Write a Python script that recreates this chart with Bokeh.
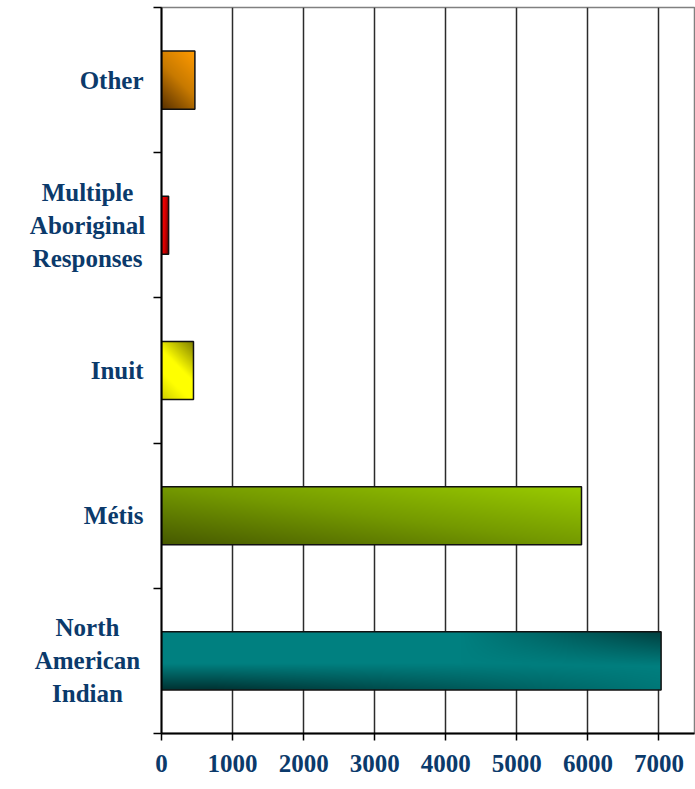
import numpy as np
from bokeh.plotting import figure
from bokeh.layouts import row
from bokeh.models import FixedTicker, Range1d, ColumnDataSource
from bokeh.core.properties import value
from bokeh.embed import file_html
from bokeh.resources import INLINE

# Aboriginal identity groups, listed bottom to top
categories = ["North\nAmerican\nIndian", "Métis", "Inuit",
              "Multiple\nAboriginal\nResponses", "Other"]
values = [7030, 5910, 450, 100, 470]
x_ticks = [0, 1000, 2000, 3000, 4000, 5000, 6000, 7000]

X_MAX = 7500
TOTAL_W, TOTAL_H = 695, 789
LABEL_W = 149                 # width of the category label panel
AXIS_PAD = 12                 # room for the outward y ticks
BORDER_TOP, BORDER_BOTTOM = 7, 56
FRAME_W = TOTAL_W - LABEL_W - AXIS_PAD - 1
FRAME_H = TOTAL_H - BORDER_TOP - BORDER_BOTTOM
LABEL_CENTER = 87             # multi-line labels: lines centred here
LABEL_RIGHT = 143             # single-line labels: right edge here
BAR_H = 0.4
TEXT_COLOR = "#0B3A6B"
FONT = "Liberation Serif"


def hex_rgb(h):
    h = h.lstrip("#")
    return np.array([int(h[i:i + 2], 16) for i in (0, 2, 4)], dtype=float)


def ramp(t, stops):
    pos = [s[0] for s in stops]
    cols = np.array([hex_rgb(s[1]) for s in stops])
    return np.stack([np.interp(t, pos, cols[:, k]) for k in range(3)], axis=-1)


def shade_orange(X, Y, w, h):
    t = (X * w + Y * h) / (w + h)
    return ramp(t, [(0, "#5A3200"), (0.5, "#C87A00"), (1, "#FF9A00")])


def shade_red(X, Y, w, h):
    t = 0.8 * X + 0.2 * (1 - Y)
    return ramp(t, [(0, "#FF0A0A"), (0.5, "#D80000"), (1, "#700000")])


def shade_yellow(X, Y, w, h):
    t = (X * w + Y * h) / (w + h)
    return ramp(t, [(0, "#D2D200"), (0.3, "#FFFF00"), (0.55, "#FFFF00"), (1, "#808000")])


def shade_green(X, Y, w, h):
    t = 0.5 * X + 0.5 * Y
    return ramp(t, [(0, "#475A00"), (0.5, "#759A00"), (1, "#9ACC00")])


def shade_teal(X, Y, w, h):
    base = hex_rgb("#008080")
    low = np.clip((0.45 - Y) / 0.45, 0, 1) * np.clip(1.1 - X, 0, 1) * 0.6
    top = np.clip((Y - 0.4) / 0.6, 0, 1) * np.clip((X - 0.6) / 0.4, 0, 1) * 0.5
    f = 1 - np.clip(low + top, 0, 0.7)
    return base[None, None, :] * f[..., None]


shaders = [shade_teal, shade_green, shade_yellow, shade_red, shade_orange]


def gradient_image(v, shader):
    w = max(2, int(round(v / X_MAX * FRAME_W)))
    h = int(round(BAR_H / len(categories) * FRAME_H))
    X, Y = np.meshgrid(np.linspace(0, 1, w), np.linspace(0, 1, h))
    rgb = np.clip(shader(X, Y, w, h), 0, 255).astype(np.uint32)
    img = (255 << 24) | (rgb[..., 2] << 16) | (rgb[..., 1] << 8) | rgb[..., 0]
    return img.astype(np.uint32)


y_range = Range1d(0, len(categories))
centres = [i + 0.5 for i in range(len(categories))]

# --- category label panel -------------------------------------------------
multi = ["\n" in c for c in categories]
labels = ColumnDataSource(dict(
    x=[LABEL_CENTER if m else LABEL_RIGHT for m in multi],
    y=centres, text=categories,
    align=["center" if m else "right" for m in multi]))

lab = figure(width=LABEL_W, height=TOTAL_H, x_range=Range1d(0, LABEL_W),
             y_range=y_range, x_axis_type=None, y_axis_type=None,
             output_backend="svg", toolbar_location=None,
             min_border_left=0, min_border_right=0,
             min_border_top=BORDER_TOP, min_border_bottom=BORDER_BOTTOM)
lab.outline_line_color = None
lab.grid.grid_line_color = None
lab.text(x="x", y="y", text="text", source=labels,
         text_align="align", text_baseline="middle",
         text_font=value(FONT), text_font_style="bold",
         text_font_size="25px", text_color=TEXT_COLOR, text_line_height=1.22)

# --- bar chart ------------------------------------------------------------
p = figure(width=TOTAL_W - LABEL_W, height=TOTAL_H, x_range=Range1d(0, X_MAX),
           y_range=y_range, output_backend="svg", toolbar_location=None,
           min_border_left=AXIS_PAD, min_border_right=1,
           min_border_top=BORDER_TOP, min_border_bottom=BORDER_BOTTOM)

p.background_fill_color = "white"
p.border_fill_color = "white"
p.outline_line_color = "#808080"
p.outline_line_width = 1.5

for i, (v, shader) in enumerate(zip(values, shaders)):
    p.image_rgba(image=[gradient_image(v, shader)], x=0, y=i + 0.5 - BAR_H / 2,
                 dw=v, dh=BAR_H)

bars = ColumnDataSource(dict(
    left=[0] * len(values), right=values,
    bottom=[c - BAR_H / 2 for c in centres],
    top=[c + BAR_H / 2 for c in centres]))
p.quad(left="left", right="right", bottom="bottom", top="top", source=bars,
       fill_alpha=0, line_color="#111111", line_width=1.5)

# x axis
p.xaxis.ticker = FixedTicker(ticks=x_ticks)
p.xaxis.axis_line_color = "black"
p.xaxis.axis_line_width = 2
p.xaxis.major_tick_line_color = "black"
p.xaxis.major_tick_line_width = 1.5
p.xaxis.major_tick_out = 7
p.xaxis.major_tick_in = 0
p.xaxis.minor_tick_line_color = None
p.xaxis.major_label_standoff = 14
p.xaxis.major_label_text_font = FONT
p.xaxis.major_label_text_font_style = "bold"
p.xaxis.major_label_text_font_size = "25px"
p.xaxis.major_label_text_color = TEXT_COLOR

# y axis: ticks at band boundaries only
p.yaxis.ticker = FixedTicker(ticks=[], minor_ticks=list(range(len(categories) + 1)))
p.yaxis.axis_line_color = "black"
p.yaxis.axis_line_width = 2
p.yaxis.major_tick_line_color = None
p.yaxis.major_label_standoff = 0
p.yaxis.minor_tick_line_color = "black"
p.yaxis.minor_tick_line_width = 1.5
p.yaxis.minor_tick_out = 8
p.yaxis.minor_tick_in = 0

p.xgrid.ticker = FixedTicker(ticks=x_ticks)
p.xgrid.grid_line_color = "#2B2B2B"
p.xgrid.grid_line_width = 1.5
p.ygrid.grid_line_color = None

layout = row(lab, p, spacing=0)
open("out.html", "w").write(file_html(layout, INLINE))
